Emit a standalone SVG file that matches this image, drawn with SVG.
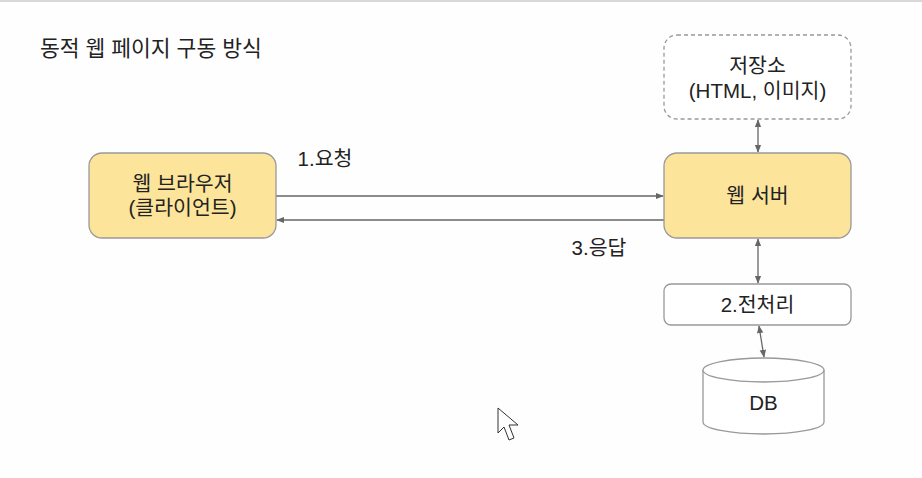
<svg xmlns="http://www.w3.org/2000/svg" width="922" height="478" viewBox="0 0 922 478">
<style>
.t{font-family:"Liberation Sans","Noto Sans CJK KR",sans-serif;fill:#222;text-anchor:middle;font-size:20.5px}
.node{fill:#fde49b;stroke:#999;stroke-width:1.3}
.white{fill:#fff;stroke:#999;stroke-width:1.3}
.c{stroke:#666;stroke-width:1.3;fill:none}
</style>
<defs>
<marker id="ah" viewBox="0 0 10 10" refX="9" refY="5" markerWidth="8" markerHeight="8" orient="auto-start-reverse" markerUnits="userSpaceOnUse">
<path d="M0,1 L10,5 L0,9 Z" fill="#666"/>
</marker>
</defs>
<rect x="0" y="0" width="922" height="478" fill="#fefefe"/>
<rect x="0" y="0" width="922" height="2" fill="#d9d9d9"/>
<text class="t" x="40" y="56" style="text-anchor:start;font-size:21.5px">동적 웹 페이지 구동 방식</text>
<g id="connectors">
<line class="c" x1="276" y1="196" x2="663" y2="196" marker-end="url(#ah)"/>
<line class="c" x1="664" y1="220" x2="277" y2="220" marker-end="url(#ah)"/>
<line class="c" x1="758" y1="120" x2="758" y2="152" marker-start="url(#ah)" marker-end="url(#ah)"/>
<line class="c" x1="758" y1="239" x2="758" y2="283" marker-start="url(#ah)" marker-end="url(#ah)"/>
<line class="c" x1="759" y1="326" x2="764" y2="357" marker-start="url(#ah)" marker-end="url(#ah)"/>
</g>
<g id="browser">
<rect class="node" x="89" y="153" width="187" height="85" rx="13"/>
<text class="t" x="182.5" y="191">웹 브라우저</text>
<text class="t" x="182.5" y="215">(클라이언트)</text>
</g>
<g id="server">
<rect class="node" x="664" y="153" width="187" height="85" rx="13"/>
<text class="t" x="757.5" y="203">웹 서버</text>
</g>
<g id="storage">
<rect x="664" y="35" width="187" height="84" rx="13" fill="#fff" stroke="#999" stroke-width="1.3" stroke-dasharray="4,3"/>
<text class="t" x="757.5" y="73">저장소</text>
<text class="t" x="757.5" y="98">(HTML, 이미지)</text>
</g>
<g id="preprocess">
<rect class="white" x="664" y="284" width="187" height="41" rx="7"/>
<text class="t" x="757.5" y="312">2.전처리</text>
</g>
<g id="db">
<path class="white" d="M703,370 L703,422 A60.5,12 0 0 0 824,422 L824,370"/>
<ellipse class="white" cx="763.5" cy="370" rx="60.5" ry="12"/>
<text class="t" x="763.5" y="410">DB</text>
</g>
<text class="t" x="325" y="166">1.요청</text>
<text class="t" x="599" y="255">3.응답</text>
<path d="M498,408 L498,433 L504,427 L509,440 L514,438 L509,425 L518,425 Z" fill="#fff" stroke="#333" stroke-width="1"/>
</svg>
